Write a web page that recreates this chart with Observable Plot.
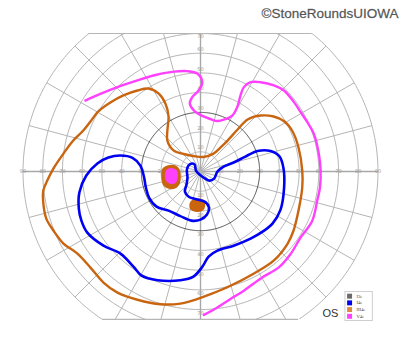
<!DOCTYPE html>
<html>
<head>
<meta charset="utf-8">
<script src="https://cdn.jsdelivr.net/npm/d3@7"></script>
<script src="https://cdn.jsdelivr.net/npm/@observablehq/plot@0.6"></script>
<style>
  html, body { margin: 0; padding: 0; background: #fff; }
  #chart svg { display: block; }
</style>
</head>
<body>
<div id="chart"></div>
<script>
// Goldmann kinetic perimetry, left eye (OS).
// Isopter points are [horizontal°, vertical°] eccentricities: +x = right, +y = up.

const ringDegrees = [10, 20, 30, 40, 50, 60, 70, 80, 90];
const meridianDegrees = [0, 15, 30, 45, 60, 75, 90, 105, 120, 135, 150, 165,
                         180, 195, 210, 225, 240, 255, 270, 285, 300, 315, 330, 345];
const sideTicks = [10, 20, 30, 40, 50, 60, 70, 80, 90];
const upperTicks = [10, 20, 30, 40, 50, 60, 70];
const lowerTicks = [10, 20, 30, 40, 50, 60, 70];

const isopterNames = ["I3e", "I4e", "III4e", "V4e"];
const isopterColors = ["#6b6b6b", "#0000f2", "#c9640f", "#ff40ff"];
const swatchColors = ["#6b6b6b", "#0000f2", "#dd8a3c", "#ff40ff"];

// I4e (closed)
const i4e = [
  [-52.3, 4.1], [-46.7, 7.1], [-40.6, 8.1], [-34.5, 6.9], [-30.5, 3.0], [-28.7, -2.5],
  [-27.7, -8.1], [-26.1, -13.2], [-22.3, -17.8], [-16.2, -19.8], [-10.2, -22.6], [-4.6, -24.9],
  [0.0, -24.4], [3.3, -21.8], [4.3, -18.3], [2.5, -15.5], [-1.5, -14.2], [-5.8, -12.9],
  [-7.9, -10.2], [-7.1, -6.6], [-6.6, -3.0], [-6.9, 1.0], [-5.3, 3.8], [-3.0, 3.6],
  [-2.3, 0.5], [-0.5, -1.5], [2.0, -3.3], [4.6, -4.6], [6.9, -3.6], [8.6, 0.0],
  [11.7, 2.5], [16.8, 4.6], [22.8, 7.6], [28.9, 10.4], [35.5, 10.4], [40.1, 7.6],
  [42.1, 1.5], [42.4, -8.1], [40.6, -19.3], [36.5, -26.4], [31.5, -30.5], [25.4, -34.0],
  [16.8, -37.6], [8.6, -40.1], [4.1, -43.1], [1.0, -48.2], [-3.6, -53.3], [-10.2, -55.1],
  [-21.8, -55.1], [-29.9, -52.8], [-34.0, -48.2], [-40.6, -41.6], [-49.2, -37.6], [-57.4, -31.0],
  [-60.4, -24.9], [-61.7, -18.8], [-61.4, -10.5], [-57.9, -2.0]
];

// III4e (closed outer isopter)
const iii4e = [
  [-79.7, -9.6], [-77.7, -4.6], [-74.6, 1.5], [-69.5, 9.1], [-64.5, 15.7], [-59.9, 20.3],
  [-55.8, 25.4], [-51.8, 30.5], [-45.7, 35.0], [-39.1, 38.6], [-32.0, 41.1], [-26.4, 42.1],
  [-21.3, 39.6], [-17.8, 34.5], [-16.2, 27.9], [-16.8, 20.8], [-16.8, 15.7], [-13.7, 10.7],
  [-8.6, 8.9], [-3.6, 7.9], [1.5, 7.4], [6.6, 9.1], [10.2, 12.2], [13.7, 15.7],
  [18.8, 21.3], [23.9, 26.4], [30.5, 28.4], [37.1, 27.9], [42.6, 25.4], [46.7, 20.3],
  [49.7, 12.2], [51.6, 0.5], [51.6, -8.1], [49.7, -19.8], [47.2, -29.9], [44.2, -36.5],
  [37.1, -45.2], [26.9, -51.8], [15.2, -57.9], [5.1, -62.2], [-2.5, -65.0], [-10.2, -67.0],
  [-20.3, -67.3], [-32.0, -65.0], [-42.1, -61.4], [-49.2, -56.3], [-55.8, -48.7], [-62.4, -41.6],
  [-69.5, -36.5], [-74.6, -29.9], [-78.2, -23.9], [-79.7, -16.2]
];

// III4e islands
const iii4eIslandNasal = [
  [-15.2, 3.0], [-11.7, 2.0], [-10.4, -2.0], [-11.2, -6.6],
  [-14.2, -8.6], [-18.3, -7.1], [-19.5, -3.0], [-18.8, 1.5]
];
const iii4eIslandInferior = [
  [-4.1, -14.7], [-1.0, -14.0], [1.5, -14.7], [2.0, -17.3],
  [1.0, -19.5], [-2.0, -20.1], [-4.6, -19.3], [-5.3, -16.8]
];

// V4e island inside the nasal III4e island
const v4eIsland = [
  [-14.7, 1.5], [-12.2, 0.5], [-11.7, -2.5], [-12.7, -5.6],
  [-15.2, -6.1], [-17.3, -4.6], [-17.8, -1.5], [-16.8, 1.0]
];

// V4e (open: upper left around to inferior meridian)
const v4e = [
  [-58.4, 36.0], [-50.8, 39.4], [-42.1, 42.8], [-32.0, 46.2], [-23.9, 48.7], [-15.2, 50.4],
  [-6.6, 50.9], [-1.5, 49.6], [0.9, 45.3], [-0.9, 41.1], [-4.2, 37.7], [-5.4, 34.4],
  [-3.4, 31.0], [0.9, 28.2], [5.1, 26.6], [8.6, 25.6], [12.2, 26.4], [16.1, 28.4],
  [18.6, 32.6], [20.3, 38.6], [22.0, 42.8], [25.4, 45.3], [30.5, 45.3], [37.2, 43.7],
  [42.3, 41.1], [47.4, 35.2], [50.8, 30.1], [54.2, 25.0], [57.5, 19.1], [60.0, 9.0],
  [60.9, 0.5], [60.6, -8.0], [59.2, -14.7], [56.7, -24.9], [50.8, -33.4], [45.7, -41.8],
  [39.7, -48.6], [31.3, -53.7], [22.0, -60.4], [15.2, -64.6], [8.5, -68.9], [1.7, -72.7]
];

// ---- layout ----
const W = 400, H = 352;
const fieldTop = 70, fieldBottom = -75;   // chart is cut by horizontal lines here
const pxPerDeg = 1.972;
const mTop = 33;
const mBottom = H - mTop - (fieldTop - fieldBottom) * pxPerDeg;
const halfX = (W / 2) / pxPerDeg;
const rad = Math.PI / 180;

const gridGray = "#b5b5b5";
const labelGray = "#9a9a9a";

const circlePoints = (rings) => rings.flatMap(r =>
  d3.range(0, 361, 1).map(a => ({r, x: r * Math.cos(a * rad), y: r * Math.sin(a * rad)}))
);

const outerR = d3.max(ringDegrees);
const chordTop = Math.sqrt(outerR * outerR - fieldTop * fieldTop);
const chordBottom = Math.sqrt(outerR * outerR - fieldBottom * fieldBottom);

const XY = {x: d => d[0], y: d => d[1]};
const tickFont = {fontSize: 5, fill: labelGray, fontFamily: "DejaVu Sans, sans-serif"};

const marks = [
  // rings
  Plot.line(circlePoints(ringDegrees.filter(r => r !== 30)), {
    x: "x", y: "y", z: "r", stroke: gridGray, strokeWidth: 1, clip: true
  }),
  // meridians every 15°
  Plot.link(meridianDegrees, {
    x1: 0, y1: 0,
    x2: a => outerR * Math.cos(a * rad), y2: a => outerR * Math.sin(a * rad),
    stroke: d => d % 90 === 0 ? "#a8a8a8" : gridGray,
    strokeWidth: a => a % 90 === 0 ? 1.4 : 1,
    clip: true
  }),
  // 30° ring
  Plot.line(circlePoints([30]), {x: "x", y: "y", stroke: "#4d4d4d", strokeWidth: 1, clip: true}),
  // top and bottom cut lines
  Plot.ruleY([fieldTop], {x1: -chordTop, x2: chordTop, stroke: gridGray, strokeWidth: 1.2}),
  Plot.ruleY([fieldBottom], {x1: -chordBottom, x2: chordBottom, stroke: gridGray, strokeWidth: 1.2}),

  // eccentricity labels
  Plot.text(sideTicks, {x: d => -d, y: 0, text: d => String(d), ...tickFont}),
  Plot.text(sideTicks, {x: d => d, y: 0, text: d => String(d), ...tickFont}),
  Plot.text(upperTicks, {x: 0, y: d => Math.min(d + 2, fieldTop - 1.3), text: d => String(d), ...tickFont}),
  Plot.text(lowerTicks, {x: 0, y: d => -(d + 2), text: d => String(d), ...tickFont}),

  // isopters
  Plot.line(iii4e, {...XY, curve: "catmull-rom-closed", stroke: isopterColors[2], strokeWidth: 2.4}),
  Plot.line(iii4eIslandNasal, {...XY, curve: "catmull-rom-closed", stroke: isopterColors[2], fill: isopterColors[2], strokeWidth: 1.5}),
  Plot.line(iii4eIslandInferior, {...XY, curve: "catmull-rom-closed", stroke: isopterColors[2], fill: isopterColors[2], strokeWidth: 1.5}),
  Plot.line(v4eIsland, {...XY, curve: "catmull-rom-closed", stroke: isopterColors[3], fill: isopterColors[3], strokeWidth: 1}),
  Plot.line(v4e, {...XY, curve: "catmull-rom", stroke: isopterColors[3], strokeWidth: 2.4}),
  Plot.line(i4e, {...XY, curve: "catmull-rom-closed", stroke: isopterColors[1], strokeWidth: 2.6}),

  // eye label
  Plot.text(["OS"], {frameAnchor: "bottom-right", dx: -78, dy: -2, textAnchor: "start",
    fontSize: 11, fill: "#333", fontFamily: "Liberation Sans, Arial, sans-serif"}),

  // legend box
  Plot.rect([0], {frameAnchor: "bottom-right", x1: 73.5, x2: 87.4, y1: -61.1, y2: -75.8,
    fill: "#fff", stroke: "#cfcfcf", strokeWidth: 1}),

  // copyright
  Plot.text(["©StoneRoundsUIOWA"], {frameAnchor: "top-right", dx: -2, dy: -25, textAnchor: "end",
    fontSize: 13.5, fill: "#555", stroke: "#888", strokeWidth: 0.3,
    fontFamily: "Liberation Sans, Arial, sans-serif"})
];

// legend rows
isopterNames.forEach((name, i) => {
  const rowY = -63.2 - i * 3.4;
  marks.push(
    Plot.dot([name], {x: 75.6, y: rowY, symbol: "square", r: 2.8, fill: swatchColors[i], stroke: "none"}),
    Plot.text([name], {x: 79.1, y: rowY, text: d => d, textAnchor: "start", fontSize: 4.6,
      fill: "#444", fontFamily: "Liberation Serif, serif"})
  );
});

const chart = Plot.plot({
  width: W,
  height: H,
  marginTop: mTop,
  marginBottom: mBottom,
  marginLeft: 0,
  marginRight: 0,
  x: {domain: [-halfX, halfX], axis: null},
  y: {domain: [fieldBottom, fieldTop], axis: null},
  style: {background: "#fff", overflow: "visible"},
  marks
});

document.getElementById("chart").appendChild(chart);
</script>
</body>
</html>
